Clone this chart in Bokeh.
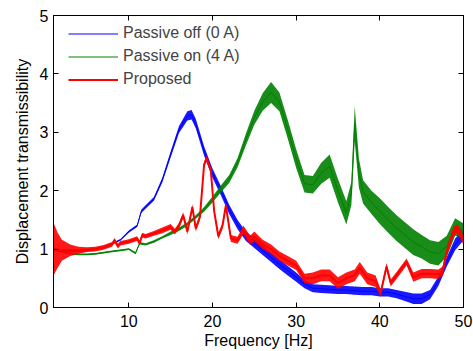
from bokeh.plotting import figure
from bokeh.models import (Range1d, Legend, LegendItem, LinearAxis, FixedTicker,
                          CustomLabelingPolicy)
from bokeh.embed import file_html
from bokeh.resources import INLINE

# ---- data ----
freq_off = [1, 2, 3, 4, 5, 6, 7, 8, 9, 10, 11, 11.5, 12, 13, 14, 15, 16, 17, 17.5, 18, 19, 20,
            21, 22, 23, 24, 25, 26, 27, 28, 29, 30, 31, 32, 33, 34, 35, 36, 37, 38, 39, 40,
            41, 42, 43, 44, 45, 46, 47, 48, 49, 50]
mag_off = [1.00, 0.97, 0.96, 0.97, 0.98, 1.00, 1.03, 1.09, 1.16, 1.30, 1.40, 1.65, 1.72, 1.86,
           2.18, 2.62, 3.05, 3.28, 3.30, 3.15, 2.68, 2.30, 2.00, 1.68, 1.42, 1.22, 1.10, 0.98,
           0.86, 0.74, 0.63, 0.52, 0.40, 0.33, 0.32, 0.31, 0.30, 0.30, 0.29, 0.28, 0.28, 0.26,
           0.26, 0.23, 0.19, 0.15, 0.15, 0.22, 0.45, 0.78, 1.08, 1.25]
noise_off = [0.03, 0.02, 0.02, 0.02, 0.015, 0.015, 0.015, 0.015, 0.015, 0.02, 0.02, 0.03, 0.03,
             0.03, 0.04, 0.05, 0.06, 0.08, 0.08, 0.08, 0.08, 0.08, 0.08, 0.08, 0.08, 0.08, 0.08,
             0.08, 0.08, 0.08, 0.08, 0.08, 0.07, 0.07, 0.07, 0.07, 0.07, 0.07, 0.07, 0.07, 0.07,
             0.07, 0.07, 0.07, 0.08, 0.09, 0.09, 0.08, 0.08, 0.08, 0.1, 0.1]

freq_on = [1, 2, 3, 4, 5, 6, 7, 8, 9, 10, 10.8, 11.3, 12, 13, 14, 15, 16, 17, 18, 19, 20, 21,
           22, 23, 24, 25, 26, 27, 28, 29, 30, 31, 32, 33, 34, 35, 36, 36.6, 37, 37.5, 38, 39,
           40, 41, 42, 43, 44, 45, 46, 47, 48, 49, 50]
mag_on = [1.00, 0.95, 0.92, 0.91, 0.91, 0.92, 0.94, 0.96, 0.98, 1.00, 0.93, 1.10, 1.08, 1.13,
          1.20, 1.27, 1.34, 1.43, 1.55, 1.68, 1.85, 2.03, 2.20, 2.48, 2.88, 3.25, 3.52, 3.68,
          3.52, 3.05, 2.55, 2.12, 2.10, 2.30, 2.42, 2.00, 1.62, 1.95, 3.15, 2.30, 1.98, 1.80,
          1.65, 1.50, 1.36, 1.24, 1.12, 1.04, 0.95, 0.92, 1.05, 1.38, 1.32]
noise_on = [0.02, 0.015, 0.015, 0.015, 0.015, 0.015, 0.015, 0.015, 0.015, 0.015, 0.02, 0.02,
            0.02, 0.02, 0.02, 0.03, 0.03, 0.03, 0.03, 0.04, 0.05, 0.06, 0.07, 0.08, 0.1, 0.12,
            0.15, 0.18, 0.16, 0.16, 0.16, 0.15, 0.15, 0.18, 0.2, 0.2, 0.2, 0.2, 0.3, 0.25, 0.2,
            0.2, 0.22, 0.22, 0.22, 0.22, 0.22, 0.2, 0.2, 0.2, 0.18, 0.15, 0.12]

freq_prop = [1, 1.5, 2, 3, 4, 5, 6, 7, 8, 8.3, 8.7, 9, 10, 11, 11.3, 11.6, 12, 13, 14, 15, 15.5,
             16, 16.5, 17, 17.6, 18, 18.5, 19, 19.3, 19.8, 20.2, 20.7, 21.2, 21.6, 22.2, 23,
             23.7, 24.5, 25, 26, 27, 28, 29, 30, 31, 32, 33, 34, 35, 36, 37, 37.6, 38.5, 39.5,
             40.1, 40.8, 41.3, 42, 43.2, 44, 45, 46, 47, 47.5, 48, 48.8, 49.3, 50]
mag_prop = [1.00, 0.98, 0.98, 0.98, 0.98, 0.99, 1.00, 1.03, 1.08, 1.15, 1.05, 1.10, 1.13, 1.18,
            1.10, 1.24, 1.22, 1.27, 1.32, 1.38, 1.30, 1.40, 1.58, 1.30, 1.72, 1.35, 1.55, 2.45,
            2.55, 2.35, 1.65, 1.22, 1.40, 1.75, 1.18, 1.15, 1.33, 1.15, 1.22, 1.08, 1.00, 0.88,
            0.80, 0.72, 0.50, 0.50, 0.55, 0.55, 0.42, 0.50, 0.55, 0.68, 0.50, 0.45, 0.25, 0.70,
            0.42, 0.55, 0.78, 0.52, 0.58, 0.58, 0.57, 0.62, 0.95, 1.30, 1.35, 1.15]
noise_prop = [0.45, 0.3, 0.18, 0.1, 0.06, 0.04, 0.04, 0.04, 0.04, 0.04, 0.04, 0.04, 0.04, 0.04,
              0.04, 0.04, 0.04, 0.04, 0.05, 0.05, 0.05, 0.05, 0.05, 0.05, 0.05, 0.05, 0.05, 0.05,
              0.05, 0.05, 0.05, 0.05, 0.05, 0.05, 0.06, 0.06, 0.07, 0.08, 0.08, 0.08, 0.08, 0.08,
              0.08, 0.08, 0.08, 0.1, 0.1, 0.1, 0.1, 0.1, 0.1, 0.1, 0.1, 0.1, 0.06, 0.06, 0.06,
              0.06, 0.06, 0.08, 0.08, 0.08, 0.08, 0.08, 0.08, 0.08, 0.08, 0.08]

x_ticks = [10, 20, 30, 40, 50]
y_ticks = [0, 1, 2, 3, 4, 5]
labels = ["Passive off (0 A)", "Passive on (4 A)", "Proposed"]
colors = ["#0000ff", "#008000", "#ff0000"]

FONT = "Liberation Sans"
W, H = 473, 351
BL, BR, BT, BB = 53, 10, 15, 43

p = figure(width=W, height=H, output_backend="svg", toolbar_location=None,
           x_range=Range1d(1, 50), y_range=Range1d(0, 5),
           min_border_left=BL, min_border_right=BR, min_border_top=BT, min_border_bottom=BB,
           background_fill_color="white", border_fill_color="white")
p.grid.visible = False
p.outline_line_color = "#000000"
p.outline_line_width = 1

bottom = p.xaxis[0]
left = p.yaxis[0]

series = [(freq_off, mag_off, noise_off, 1.0),
          (freq_on, mag_on, noise_on, 1.0),
          (freq_prop, mag_prop, noise_prop, 2.0)]
line_renderers = []
for (f, m, n, lw), c in zip(series, colors):
    lo = [a - b for a, b in zip(m, n)]
    hi = [a + b for a, b in zip(m, n)]
    p.varea(x=f, y1=lo, y2=hi, fill_color=c, fill_alpha=0.9)
    r = p.line(f, m, line_color=c, line_width=lw)
    line_renderers.append(r)

no_labels = CustomLabelingPolicy(code="""
    for (const i of Array.from(indices)) { indices.unset(i) }
    return indices
""")

bottom.ticker = FixedTicker(ticks=x_ticks)
left.ticker = FixedTicker(ticks=y_ticks)
top = LinearAxis(ticker=FixedTicker(ticks=x_ticks), major_label_policy=no_labels,
                 major_label_standoff=0)
right = LinearAxis(ticker=FixedTicker(ticks=y_ticks), major_label_policy=no_labels,
                   major_label_standoff=0)
p.add_layout(top, "above")
p.add_layout(right, "right")

for ax in [bottom, left, top, right]:
    ax.major_tick_in = 5
    ax.major_tick_out = 0
    ax.minor_tick_in = 0
    ax.minor_tick_out = 0
    ax.axis_line_color = "#000000"
    ax.major_tick_line_color = "#000000"

for ax in [bottom, left]:
    ax.major_label_text_font = FONT
    ax.major_label_text_font_size = "16px"
    ax.major_label_text_color = "#000000"
    ax.axis_label_text_font = FONT
    ax.axis_label_text_font_size = "16px"
    ax.axis_label_text_font_style = "normal"
    ax.axis_label_text_color = "#000000"

bottom.axis_label = "Frequency [Hz]"
left.axis_label = "Displacement transmissibility"
bottom.major_label_standoff = 7
left.major_label_standoff = 5
bottom.axis_label_standoff = 2
left.axis_label_standoff = 6

frame_h = H - BT - BB
row_h = 23
legend = Legend(items=[LegendItem(label=l, renderers=[r]) for l, r in zip(labels, line_renderers)],
                location=(15, frame_h - 7.5 - 3 * row_h), padding=0, margin=0, spacing=0,
                glyph_width=50, glyph_height=row_h, label_height=row_h, label_standoff=5,
                label_text_font=FONT, label_text_font_size="16px",
                border_line_color=None, background_fill_alpha=0)
p.add_layout(legend, "center")

open("out.html", "w").write(file_html(p, INLINE))
